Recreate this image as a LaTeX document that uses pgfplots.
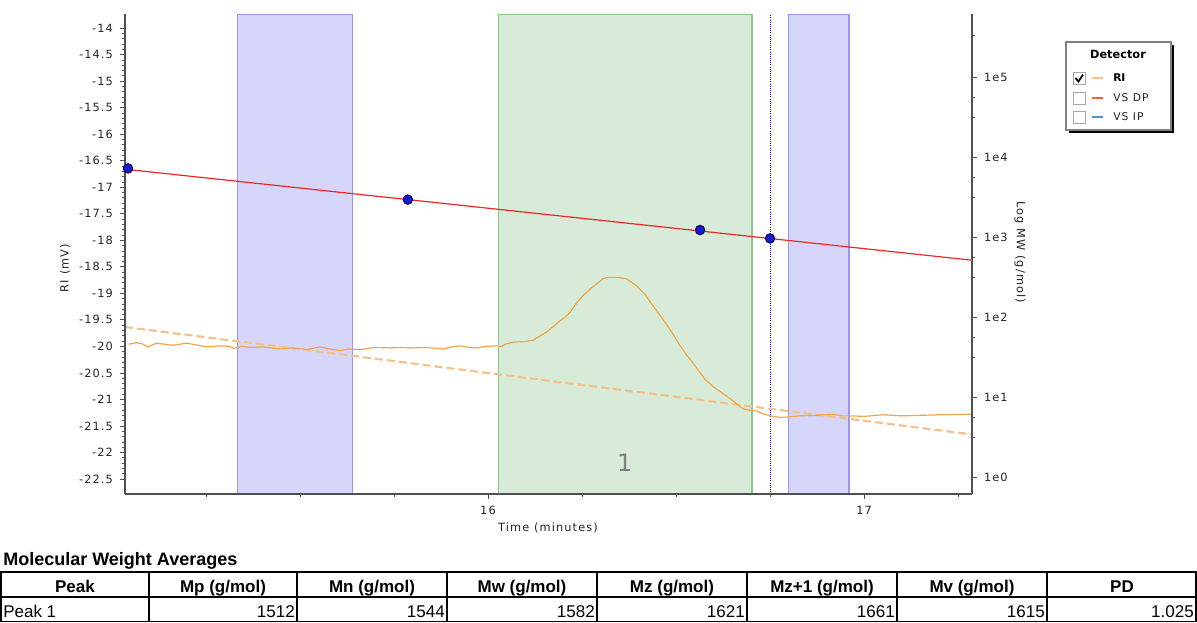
\documentclass[border=0pt]{standalone}
\usepackage{pgfplots}
\pgfplotsset{compat=1.18}
\usepackage{fontspec}
\setmainfont{DejaVu Sans}
\newfontfamily\tickfont[LetterSpace=10]{DejaVu Sans}
\newfontfamily\arial{Liberation Sans}
\definecolor{regblue}{RGB}{214,214,250}
\definecolor{regblueedge}{RGB}{150,150,240}
\definecolor{reggreen}{RGB}{216,235,216}
\definecolor{reggreenedge}{RGB}{140,200,140}
\definecolor{ritrace}{RGB}{240,165,70}
\definecolor{ribase}{RGB}{246,192,135}
\definecolor{calred}{RGB}{235,40,40}
\definecolor{ptblue}{RGB}{25,25,210}
\definecolor{axgray}{RGB}{80,80,80}
\definecolor{txtgray}{RGB}{35,35,35}
\definecolor{vsdp}{RGB}{240,100,60}
\definecolor{vsip}{RGB}{60,160,190}

\pgfplotstableread{
t v
15.045 -19.96
15.065 -19.93
15.080 -19.95
15.096 -20.01
15.119 -19.94
15.140 -19.96
15.163 -19.98
15.199 -19.94
15.230 -19.98
15.253 -20.01
15.290 -19.99
15.314 -20.00
15.323 -20.04
15.345 -20.00
15.367 -20.02
15.400 -20.01
15.447 -20.05
15.480 -20.03
15.520 -20.06
15.553 -20.01
15.580 -20.05
15.606 -20.08
15.630 -20.05
15.660 -20.06
15.700 -20.02
15.739 -20.03
15.766 -20.02
15.800 -20.03
15.835 -20.02
15.881 -20.05
15.905 -20.01
15.926 -19.99
15.950 -20.02
15.970 -20.03
15.995 -20.00
16.023 -19.99
16.036 -20.00
16.050 -19.95
16.067 -19.92
16.100 -19.91
16.121 -19.88
16.135 -19.82
16.156 -19.73
16.175 -19.62
16.191 -19.52
16.205 -19.45
16.218 -19.36
16.236 -19.18
16.254 -19.03
16.272 -18.92
16.289 -18.82
16.305 -18.73
16.316 -18.70
16.345 -18.70
16.369 -18.73
16.395 -18.86
16.418 -19.02
16.433 -19.18
16.449 -19.33
16.466 -19.50
16.484 -19.68
16.497 -19.83
16.511 -19.99
16.528 -20.16
16.546 -20.32
16.562 -20.48
16.577 -20.62
16.597 -20.75
16.617 -20.85
16.635 -20.94
16.652 -21.03
16.667 -21.12
16.679 -21.18
16.700 -21.21
16.715 -21.22
16.732 -21.27
16.750 -21.31
16.777 -21.34
16.800 -21.33
16.830 -21.31
16.870 -21.30
16.918 -21.28
16.940 -21.31
16.963 -21.31
17.000 -21.32
17.050 -21.29
17.100 -21.31
17.150 -21.30
17.200 -21.29
17.287 -21.28
}\ritable

\pgfplotstableread{
t lmw
15.043 3.86
15.787 3.47
16.564 3.09
16.750 2.985
}\calpts

\begin{document}
\begin{tikzpicture}
\path[use as bounding box] (0,0) rectangle (897.75pt,-466.5pt);
\begin{axis}[
  at={(93.75pt,-370.5pt)}, anchor=south west,
  width=635.25pt, height=360pt, scale only axis,
  xmin=15.035, xmax=17.287, ymin=-22.783, ymax=-13.736,
  axis x line*=bottom, axis y line*=left,
  axis line style={axgray, line width=1pt},
  axis on top,
  tick align=outside,
  xtick={16,17}, xticklabels={16,17},
  minor xtick={15.25,15.5,15.75,16.25,16.5,16.75,17.25},
  ytick={-22.5,-22,...,-14},
  yticklabels={-22.5,-22,-21.5,-21,-20.5,-20,-19.5,-19,-18.5,-18,-17.5,-17,-16.5,-16,-15.5,-15,-14.5,-14},
  minor y tick num=4,
  major tick length=3.5pt, minor tick length=2.2pt,
  tick style={axgray, line width=0.5pt},
  ticklabel style={font=\tickfont\fontsize{8.5}{10}\selectfont, text=txtgray},
  yticklabel style={xshift=-2pt},
  xticklabel style={yshift=-2pt},
]
\addplot[fill=regblue, draw=regblueedge, line width=0.8pt] coordinates {(15.335,-22.783) (15.335,-13.736) (15.641,-13.736) (15.641,-22.783)} -- cycle;
\addplot[fill=reggreen, draw=reggreenedge, line width=0.8pt] coordinates {(16.027,-22.783) (16.027,-13.736) (16.702,-13.736) (16.702,-22.783)} -- cycle;
\addplot[fill=regblue, draw=regblueedge, line width=0.8pt] coordinates {(16.798,-22.783) (16.798,-13.736) (16.960,-13.736) (16.960,-22.783)} -- cycle;
\addplot[blue, densely dotted, line width=0.6pt] coordinates {(16.75,-22.783) (16.75,-13.736)};
\addplot[ribase, line width=1.6pt, dash pattern=on 6pt off 3pt] coordinates {(15.035,-19.635) (17.287,-21.66)};
\addplot[ritrace, line width=0.9pt] table[x=t, y=v] {\ritable};
\node[text=gray, font=\fontsize{18}{20}\selectfont] at (axis cs:16.364,-22.2) {1};
\end{axis}
\begin{axis}[
  at={(93.75pt,-370.5pt)}, anchor=south west,
  width=635.25pt, height=360pt, scale only axis,
  xmin=15.035, xmax=17.287, ymin=-0.21, ymax=5.79,
  axis x line=none, axis y line*=right,
  axis line style={axgray, line width=1pt},
  tick align=outside,
  ytick={0,1,2,3,4,5}, yticklabels={1e0,1e1,1e2,1e3,1e4,1e5},
  minor ytick={0.5,0.75,1.5,1.75,2.5,2.75,3.5,3.75,4.5,4.75,5.52},
  major tick length=3.5pt, minor tick length=2.2pt,
  tick style={axgray, line width=0.5pt},
  ticklabel style={font=\tickfont\fontsize{8.5}{10}\selectfont, text=txtgray},
  yticklabel style={xshift=2pt},
]
\addplot[calred, line width=0.9pt] coordinates {(15.035,3.85) (17.287,2.7125)};
\addplot[only marks, mark=*, mark size=3.6pt, mark options={fill=ptblue, draw=black!80!blue, line width=0.6pt}] table[x=t, y=lmw] {\calpts};
\end{axis}
\begin{scope}[x=0.75pt, y=-0.75pt]
  % axis titles
  \node[rotate=90, font=\tickfont\fontsize{8.5}{10}\selectfont, text=txtgray] at (65,268) {RI (mV)};
  \node[rotate=-90, font=\tickfont\fontsize{8.5}{10}\selectfont, text=txtgray] at (1020,252) {Log MW (g/mol)};
  \node[font=\tickfont\fontsize{8.5}{10}\selectfont, text=txtgray] at (548,528) {Time (minutes)};
  % legend
  \fill[black] (1069,45) rectangle (1174,133);
  \draw[fill=white, draw=gray, line width=0.8pt] (1066,42) rectangle (1171,130);
  \node[font=\bfseries\fontsize{8.5}{10}\selectfont] at (1118,54) {Detector};
  \draw[gray!70, line width=0.6pt, fill=white] (1073,72) rectangle (1085,84);
  \draw[gray!70, line width=0.6pt, fill=white] (1073,92) rectangle (1085,104);
  \draw[gray!70, line width=0.6pt, fill=white] (1073,111) rectangle (1085,123);
  \draw[black, line width=1.3pt] (1075.5,78) -- (1078.5,81.5) -- (1083,74.5);
  \draw[ribase, line width=0.9pt] (1092,78) -- (1103,78);
  \draw[vsdp, line width=0.9pt] (1092,98) -- (1103,98);
  \draw[vsip, line width=0.9pt] (1092,117) -- (1103,117);
  \node[anchor=west, inner sep=0pt, font=\bfseries\fontsize{8}{9.5}\selectfont] at (1113,78) {RI};
  \node[anchor=west, inner sep=0pt, font=\tickfont\fontsize{8}{9.5}\selectfont, text=txtgray] at (1113,98) {VS DP};
  \node[anchor=west, inner sep=0pt, font=\tickfont\fontsize{8}{9.5}\selectfont, text=txtgray] at (1113,117) {VS IP};
  % table
  \node[anchor=base west, inner sep=0pt, font=\arial\bfseries\fontsize{13.5}{16}\selectfont] at (3,565) {Molecular Weight Averages};
  \draw[line width=1.1pt] (1,572) rectangle (1196,621.3);
  \draw[line width=1.1pt] (1,597) -- (1196,597);
  \foreach \xb in {149,297,447,597,747,897,1047} {\draw[line width=1.1pt] (\xb,572) -- (\xb,621.3);}
  \foreach \xc/\lab in {75/{Peak},223/{Mp (g/mol)},372/{Mn (g/mol)},522/{Mw (g/mol)},672/{Mz (g/mol)},822/{Mz+1 (g/mol)},972/{Mv (g/mol)},1122/{PD}}
    {\node[anchor=base, inner sep=0pt, font=\arial\bfseries\fontsize{12.75}{15}\selectfont] at (\xc,592) {\lab};}
  \node[anchor=base west, inner sep=0pt, font=\arial\fontsize{12.75}{15}\selectfont] at (3,617) {Peak 1};
  \foreach \xr/\val in {295/1512,445/1544,595/1582,745/1621,895/1661,1045/1615,1194/1.025}
    {\node[anchor=base east, inner sep=0pt, font=\arial\fontsize{12.75}{15}\selectfont] at (\xr,617) {\val};}
\end{scope}
\end{tikzpicture}
\end{document}
